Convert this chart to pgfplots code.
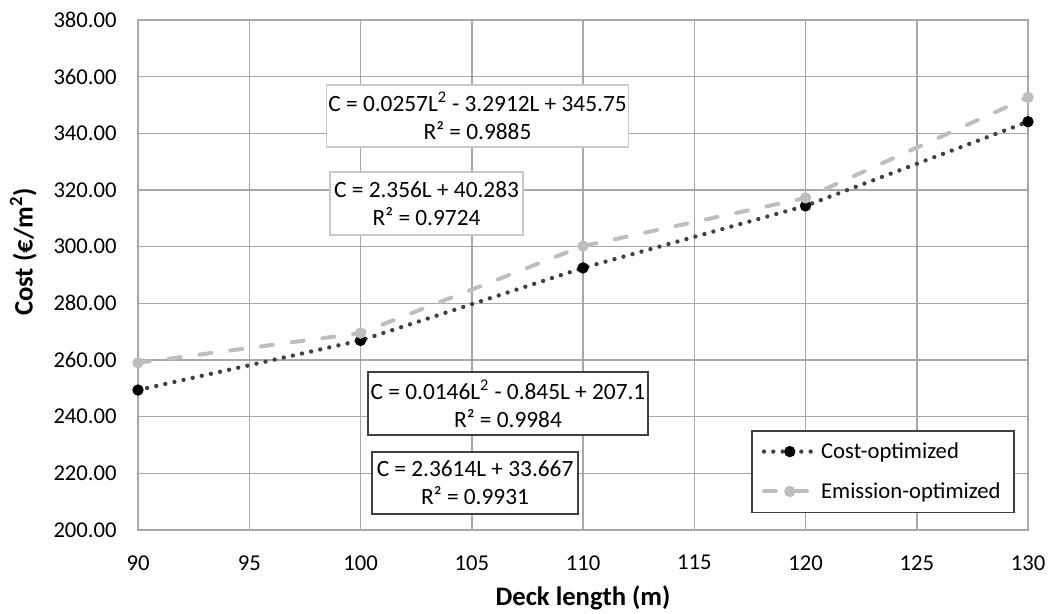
\documentclass[border=0pt]{standalone}
\usepackage{pgfplots}
\pgfplotsset{compat=1.18}
\usepackage{fontspec}
\setmainfont{Carlito}

\definecolor{gridgray}{RGB}{168,168,168}
\definecolor{costline}{RGB}{64,64,64}
\definecolor{emisline}{RGB}{190,190,190}
\definecolor{boxgray}{RGB}{200,200,200}

\begin{document}
\begin{tikzpicture}
% page size fixed to the reference proportions (1051x613 px at 0.6pt/px)
\path[use as bounding box] (-82.8pt,-49.8pt) rectangle (547.8pt,318pt);
\begin{axis}[
  at={(0,0)}, anchor=south west,
  scale only axis, width=534pt, height=306pt,
  xmin=90, xmax=130, ymin=200, ymax=380,
  xtick={90,95,...,130}, ytick={200,220,...,380},
  grid=major,
  major grid style={gridgray, line width=0.9pt},
  axis line style={gridgray, line width=0.9pt},
  major tick length=0pt,
  font=\fontsize{13.6}{16}\selectfont,
  /pgf/number format/assume math mode=true,
  yticklabel style={/pgf/number format/.cd, fixed, zerofill, precision=2, /tikz/.cd, inner sep=0pt, xshift=-12.6pt},
  xticklabel style={inner sep=0pt, yshift=-15pt},
  every axis x label/.style={at={(axis description cs:0.5,-0.133)}, anchor=center},
  every axis y label/.style={at={(axis description cs:-0.129,0.545)}, anchor=center, rotate=90},
  xlabel={\fontsize{16}{19}\selectfont\bfseries Deck length (m)},
  ylabel={\fontsize{16}{19}\selectfont\bfseries Cost (€/m\textsuperscript{2})},
  legend style={at={(rel axis cs:0.985,0.196)}, anchor=north east,
    draw=costline, line width=0.9pt, font=\fontsize{13.6}{16}\selectfont,
    inner xsep=6pt, inner ysep=5pt, row sep=9pt},
  legend cell align=left,
  legend image code/.code={\draw[#1, mark repeat=2, mark phase=2] plot coordinates {(0pt,0pt) (15.5pt,0pt) (31pt,0pt)};},
]
\addplot[costline, line width=2.6pt, line cap=round, dash pattern=on 0pt off 5.6pt,
  mark=*, mark size=3.1pt, mark options={solid, line width=0.6pt, fill=black, draw=black}]
  coordinates {(90,249.4) (100,266.9) (110,292.5) (120,314.4) (130,344.1)};
\addlegendentry{Cost-optimized}
\addplot[emisline, line width=2.4pt, line cap=round, dash pattern=on 7.2pt off 11.4pt,
  mark=*, mark size=3.1pt, mark options={solid, line width=0.6pt, fill=emisline, draw=emisline}]
  coordinates {(90,259.0) (100,269.5) (110,300.2) (120,317.2) (130,352.7)};
\addlegendentry{Emission-optimized}

\tikzset{eqbox/.style={fill=white, line width=0.9pt, align=center, inner sep=1pt,
  font=\fontsize{14}{17}\selectfont}}
\node[eqbox, draw=boxgray, minimum width=180.6pt, minimum height=37.2pt] at (axis cs:105.26,346.1)
  {C = 0.0257L\textsuperscript{2} - 3.2912L + 345.75\\R² = 0.9885};
\node[eqbox, draw=boxgray, minimum width=115.8pt, minimum height=37.8pt] at (axis cs:102.97,315.2)
  {C = 2.356L + 40.283\\R² = 0.9724};
\node[eqbox, draw=costline, minimum width=168pt, minimum height=37.8pt] at (axis cs:106.63,244.6)
  {C = 0.0146L\textsuperscript{2} - 0.845L + 207.1\\R² = 0.9984};
\node[eqbox, draw=costline, minimum width=123.6pt, minimum height=37.2pt] at (axis cs:105.15,216.6)
  {C = 2.3614L + 33.667\\R² = 0.9931};
\end{axis}
\end{tikzpicture}
\end{document}
